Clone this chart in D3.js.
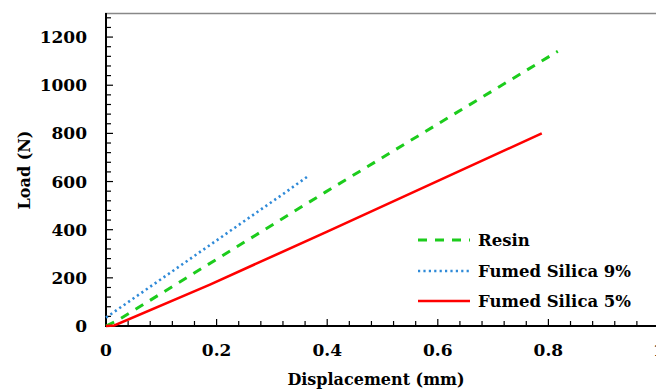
<!DOCTYPE html>
<html><head><meta charset="utf-8">
<script src="https://cdn.jsdelivr.net/npm/d3@7/dist/d3.min.js"></script>
<style>body{margin:0;background:#fff}svg{display:block}</style>
</head><body>
<svg id="c" width="656" height="390"></svg>
<script>
const xTicks = [0, 0.2, 0.4, 0.6, 0.8, 1];
const yTicks = [0, 200, 400, 600, 800, 1000, 1200];
const seriesNames = ["Resin", "Fumed Silica 9%", "Fumed Silica 5%"];
const resinX = [0, 0.02, 0.396, 0.817];
const resinY = [0, 22, 555, 1141];
const fs9X = [0, 0.322, 0.364];
const fs9Y = [35, 551, 620];
const fs5X = [0, 0.015, 0.188, 0.4, 0.788];
const fs5Y = [0, 2, 172, 392, 800];

const svg = d3.select("#c");
const font = "'DejaVu Serif', serif";
const x = d3.scaleLinear().domain([0, 1]).range([106, 659]);
const y = d3.scaleLinear().domain([0, 1300]).range([326, 13]);

// top border
svg.append("line").attr("x1", 105).attr("x2", 656).attr("y1", 13.5).attr("y2", 13.5)
  .attr("stroke", "#888").attr("stroke-width", 1.5);

// minor ticks
const xMinor = d3.range(0, 1.0001, 0.04);
const yMinor = d3.range(0, 1300.01, 40);
svg.append("g").selectAll("line").data(xMinor).join("line")
  .attr("x1", d => x(d)).attr("x2", d => x(d))
  .attr("y1", y(0)).attr("y2", (d) => y(0) - (Math.abs(d*5 - Math.round(d*5)) < 1e-6 ? 7 : 5))
  .attr("stroke", "#000").attr("stroke-width", 1.2);
svg.append("g").selectAll("line").data(yMinor).join("line")
  .attr("x1", x(0)).attr("x2", d => x(0) + (d % 200 === 0 ? 7 : 5))
  .attr("y1", d => y(d)).attr("y2", d => y(d))
  .attr("stroke", "#000").attr("stroke-width", 1.2);

// axes lines
svg.append("line").attr("x1", x(0)).attr("x2", 656).attr("y1", y(0)).attr("y2", y(0))
  .attr("stroke", "#000").attr("stroke-width", 2);
svg.append("line").attr("x1", x(0)).attr("x2", x(0)).attr("y1", 13).attr("y2", y(0) + 1)
  .attr("stroke", "#000").attr("stroke-width", 2);

// tick labels
svg.append("g").selectAll("text").data(xTicks).join("text")
  .attr("x", d => x(d)).attr("y", 356).attr("text-anchor", "middle")
  .attr("font-family", font).attr("font-weight", "bold").attr("font-size", 17)
  .text(d => d === 0 ? "0" : d === 1 ? "1" : d3.format(".1f")(d));
svg.append("g").selectAll("text").data(yTicks).join("text")
  .attr("x", 87).attr("y", d => y(d) + 6).attr("text-anchor", "end")
  .attr("font-family", font).attr("font-weight", "bold").attr("font-size", 17)
  .text(d => d);

// axis titles
svg.append("text").attr("x", 376).attr("y", 385).attr("text-anchor", "middle")
  .attr("font-family", font).attr("font-weight", "bold").attr("font-size", 16)
  .text("Displacement (mm)");
svg.append("text").attr("transform", "translate(30,170) rotate(-90)").attr("text-anchor", "middle")
  .attr("font-family", font).attr("font-weight", "bold").attr("font-size", 16)
  .text("Load (N)");

const line = d3.line().x(d => x(d[0])).y(d => y(d[1]));
const styles = [
  {color: "#1ccc1c", dash: "9,8", width: 3},
  {color: "#2f8ad8", dash: "2.2,3.2", width: 2.6},
  {color: "#ff0000", dash: null, width: 2.6}
];
const data = [
  d3.zip(resinX, resinY),
  d3.zip(fs9X, fs9Y),
  d3.zip(fs5X, fs5Y)
];
data.forEach((pts, i) => {
  svg.append("path").attr("d", line(pts)).attr("fill", "none")
    .attr("stroke", styles[i].color).attr("stroke-width", styles[i].width)
    .attr("stroke-dasharray", styles[i].dash);
});

// legend
const legY = [240, 271, 301];
seriesNames.forEach((n, i) => {
  svg.append("line").attr("x1", 418).attr("x2", 470).attr("y1", legY[i]).attr("y2", legY[i])
    .attr("stroke", styles[i].color).attr("stroke-width", styles[i].width)
    .attr("stroke-dasharray", styles[i].dash);
  svg.append("text").attr("x", 478).attr("y", legY[i] + 6)
    .attr("font-family", font).attr("font-weight", "bold").attr("font-size", 16.5)
    .text(n);
});
</script>
</body></html>
